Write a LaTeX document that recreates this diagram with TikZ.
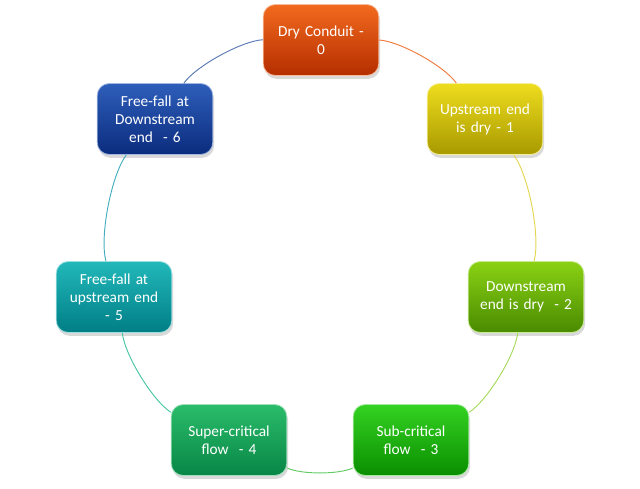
\documentclass[tikz,border=0pt]{standalone}
\usepackage{fontspec}
\setmainfont{Carlito}
\usetikzlibrary{shadows}

\definecolor{topA}{HTML}{F26A1E}\definecolor{botA}{HTML}{B52E00}
\definecolor{topB}{HTML}{EEDC1E}\definecolor{botB}{HTML}{A89A00}
\definecolor{topC}{HTML}{8AD214}\definecolor{botC}{HTML}{4A8A00}
\definecolor{topD}{HTML}{34D222}\definecolor{botD}{HTML}{0A8E00}
\definecolor{topE}{HTML}{2ABC6A}\definecolor{botE}{HTML}{088646}
\definecolor{topF}{HTML}{22B8BA}\definecolor{botF}{HTML}{007E86}
\definecolor{topG}{HTML}{2E5EBA}\definecolor{botG}{HTML}{0B2C7E}
\definecolor{linkA}{HTML}{F07A3A}
\definecolor{linkB}{HTML}{E4D650}
\definecolor{linkC}{HTML}{A6DA5A}
\definecolor{linkD}{HTML}{5ECC62}
\definecolor{linkE}{HTML}{46C4A2}
\definecolor{linkF}{HTML}{44AEBE}
\definecolor{linkG}{HTML}{5A78B4}

\tikzset{
  state/.style 2 args={rectangle, rounded corners=9pt, minimum width=85.5pt,
    minimum height=53.25pt, text width=80pt, align=center, text=white,
    font=\fontsize{11.5}{13.5}\selectfont, top color=#1, bottom color=#2,
    draw=white!55!#1, line width=0.6pt,
    drop shadow={shadow xshift=1pt, shadow yshift=-2.5pt, opacity=0.3}},
  link/.style={line width=0.7pt, bend left=25.7, looseness=0.6}
}

\begin{document}
\begin{tikzpicture}[x=0.75pt, y=-0.75pt]
\useasboundingbox (0,0) rectangle (640,489);

\node[state={topA}{botA}] (dry) at (321,40) {Dry Conduit -\\0};
\node[state={topB}{botB}] (upend) at (485,119) {Upstream end\\is dry - 1};
\node[state={topC}{botC}] (downend) at (526,297) {Downstream\\end is dry\ \ - 2};
\node[state={topD}{botD}] (sub) at (411,440) {Sub-critical\\flow\ \ - 3};
\node[state={topE}{botE}] (super) at (229,440) {Super-critical\\flow\ \ - 4};
\node[state={topF}{botF}] (ffup) at (114,297) {Free-fall at\\upstream end\\- 5};
\node[state={topG}{botG}] (ffdown) at (155,119) {Free-fall at\\Downstream\\end\ \ - 6};

\draw[link, linkA] (dry) to (upend);
\draw[link, linkB] (upend) to (downend);
\draw[link, linkC] (downend) to (sub);
\draw[link, linkD] (sub) to (super);
\draw[link, linkE] (super) to (ffup);
\draw[link, linkF] (ffup) to (ffdown);
\draw[link, linkG] (ffdown) to (dry);
\end{tikzpicture}
\end{document}
